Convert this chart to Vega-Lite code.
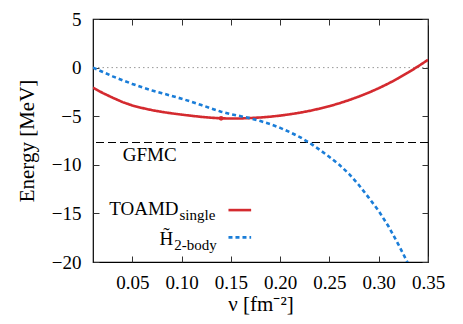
{
  "$schema": "https://vega.github.io/schema/vega-lite/v6.json",
  "width": 335,
  "height": 243,
  "autosize": {"type": "none"},
  "padding": {"left": 93, "top": 19, "right": 35, "bottom": 62},
  "background": "white",
  "data": {"values": [{"k": 1}]},
  "config": {
    "view": {"stroke": "black", "strokeWidth": 1.2},
    "font": "Liberation Serif",
    "style": {
      "guide-label": {"font": "Liberation Serif", "fontSize": 19, "fill": "black"},
      "guide-title": {"font": "Liberation Serif", "fontSize": 21, "fill": "black", "fontWeight": "normal"}
    },
    "axis": {
      "grid": false,
      "domain": false,
      "labelFont": "Liberation Serif",
      "titleFont": "Liberation Serif",
      "labelFontSize": 19,
      "titleFontSize": 21,
      "labelColor": "black",
      "titleColor": "black",
      "titleFontWeight": "normal",
      "labelFlush": false,
      "labelOverlap": false,
      "tickColor": "#333",
      "tickWidth": 1,
      "tickSize": -6
    }
  },
  "datasets": {
    "curves": [
      {"nu": 0.01, "E": -2.07, "series": "TOAMD"},
      {"nu": 0.02, "E": -2.62, "series": "TOAMD"},
      {"nu": 0.03, "E": -3.1, "series": "TOAMD"},
      {"nu": 0.04, "E": -3.55, "series": "TOAMD"},
      {"nu": 0.05, "E": -3.9, "series": "TOAMD"},
      {"nu": 0.06, "E": -4.16, "series": "TOAMD"},
      {"nu": 0.07, "E": -4.38, "series": "TOAMD"},
      {"nu": 0.08, "E": -4.56, "series": "TOAMD"},
      {"nu": 0.09, "E": -4.71, "series": "TOAMD"},
      {"nu": 0.1, "E": -4.84, "series": "TOAMD"},
      {"nu": 0.11, "E": -4.96, "series": "TOAMD"},
      {"nu": 0.12, "E": -5.07, "series": "TOAMD"},
      {"nu": 0.13, "E": -5.16, "series": "TOAMD"},
      {"nu": 0.14, "E": -5.22, "series": "TOAMD"},
      {"nu": 0.15, "E": -5.24, "series": "TOAMD"},
      {"nu": 0.16, "E": -5.23, "series": "TOAMD"},
      {"nu": 0.17, "E": -5.19, "series": "TOAMD"},
      {"nu": 0.18, "E": -5.13, "series": "TOAMD"},
      {"nu": 0.19, "E": -5.05, "series": "TOAMD"},
      {"nu": 0.2, "E": -4.94, "series": "TOAMD"},
      {"nu": 0.21, "E": -4.8, "series": "TOAMD"},
      {"nu": 0.22, "E": -4.64, "series": "TOAMD"},
      {"nu": 0.23, "E": -4.45, "series": "TOAMD"},
      {"nu": 0.24, "E": -4.22, "series": "TOAMD"},
      {"nu": 0.25, "E": -3.97, "series": "TOAMD"},
      {"nu": 0.26, "E": -3.67, "series": "TOAMD"},
      {"nu": 0.27, "E": -3.34, "series": "TOAMD"},
      {"nu": 0.28, "E": -2.97, "series": "TOAMD"},
      {"nu": 0.29, "E": -2.57, "series": "TOAMD"},
      {"nu": 0.3, "E": -2.12, "series": "TOAMD"},
      {"nu": 0.31, "E": -1.63, "series": "TOAMD"},
      {"nu": 0.32, "E": -1.09, "series": "TOAMD"},
      {"nu": 0.33, "E": -0.5, "series": "TOAMD"},
      {"nu": 0.34, "E": 0.13, "series": "TOAMD"},
      {"nu": 0.35, "E": 0.8, "series": "TOAMD"},
      {"nu": 0.01, "E": 0.0, "series": "H2"},
      {"nu": 0.02, "E": -0.45, "series": "H2"},
      {"nu": 0.03, "E": -0.9, "series": "H2"},
      {"nu": 0.04, "E": -1.3, "series": "H2"},
      {"nu": 0.05, "E": -1.68, "series": "H2"},
      {"nu": 0.06, "E": -2.03, "series": "H2"},
      {"nu": 0.07, "E": -2.35, "series": "H2"},
      {"nu": 0.08, "E": -2.63, "series": "H2"},
      {"nu": 0.09, "E": -2.92, "series": "H2"},
      {"nu": 0.1, "E": -3.2, "series": "H2"},
      {"nu": 0.11, "E": -3.52, "series": "H2"},
      {"nu": 0.12, "E": -3.85, "series": "H2"},
      {"nu": 0.13, "E": -4.2, "series": "H2"},
      {"nu": 0.14, "E": -4.54, "series": "H2"},
      {"nu": 0.15, "E": -4.8, "series": "H2"},
      {"nu": 0.16, "E": -5.0, "series": "H2"},
      {"nu": 0.17, "E": -5.22, "series": "H2"},
      {"nu": 0.18, "E": -5.5, "series": "H2"},
      {"nu": 0.19, "E": -5.82, "series": "H2"},
      {"nu": 0.2, "E": -6.2, "series": "H2"},
      {"nu": 0.21, "E": -6.65, "series": "H2"},
      {"nu": 0.22, "E": -7.15, "series": "H2"},
      {"nu": 0.23, "E": -7.75, "series": "H2"},
      {"nu": 0.24, "E": -8.45, "series": "H2"},
      {"nu": 0.25, "E": -9.2, "series": "H2"},
      {"nu": 0.26, "E": -10.0, "series": "H2"},
      {"nu": 0.27, "E": -10.95, "series": "H2"},
      {"nu": 0.28, "E": -12.1, "series": "H2"},
      {"nu": 0.29, "E": -13.4, "series": "H2"},
      {"nu": 0.3, "E": -14.75, "series": "H2"},
      {"nu": 0.31, "E": -16.35, "series": "H2"},
      {"nu": 0.32, "E": -18.2, "series": "H2"},
      {"nu": 0.33, "E": -20.2, "series": "H2"}
    ]
  },
  "resolve": {"axis": {"x": "independent", "y": "independent"}},
  "layer": [
    {
      "mark": {"type": "rule", "color": "#999999", "strokeWidth": 1, "strokeDash": [1.5, 3]},
      "encoding": {
        "y": {"datum": 0, "type": "quantitative", "scale": {"domain": [-20, 5]}, "axis": null}
      }
    },
    {
      "mark": {"type": "rule", "color": "black", "strokeWidth": 1.1, "strokeDash": [8, 4]},
      "encoding": {
        "y": {"datum": -7.7, "type": "quantitative", "axis": null}
      }
    },
    {
      "data": {"name": "curves"},
      "mark": {"type": "line", "clip": true, "strokeWidth": 2.6},
      "encoding": {
        "x": {
          "field": "nu", "type": "quantitative",
          "scale": {"domain": [0.01, 0.35], "nice": false, "zero": false},
          "axis": {"orient": "bottom", "values": [0.05, 0.1, 0.15, 0.2, 0.25, 0.3, 0.35], "format": ".2f", "title": "ν [fm⁻²]", "labelFont": "Liberation Serif", "titleFont": "Liberation Serif", "labelPadding": 17, "titlePadding": 1}
        },
        "y": {
          "field": "E", "type": "quantitative",
          "scale": {"domain": [-20, 5], "nice": false, "zero": false},
          "axis": {"orient": "left", "values": [-20, -15, -10, -5, 0, 5], "title": "Energy [MeV]", "labelFont": "Liberation Serif", "titleFont": "Liberation Serif", "labelPadding": 18, "titlePadding": 14}
        },
        "color": {
          "field": "series", "type": "nominal",
          "scale": {"domain": ["TOAMD", "H2"], "range": ["#d42a2f", "#1a7dd8"]},
          "legend": null
        },
        "strokeDash": {
          "field": "series", "type": "nominal",
          "scale": {"domain": ["TOAMD", "H2"], "range": [[1, 0], [4, 3]]},
          "legend": null
        }
      }
    },
    {
      "mark": {"type": "point", "filled": true, "color": "#d42a2f", "size": 22, "opacity": 1},
      "encoding": {
        "x": {"datum": 0.14, "type": "quantitative",
          "axis": {"orient": "top", "values": [0.05, 0.1, 0.15, 0.2, 0.25, 0.3, 0.35], "labels": false, "title": null}},
        "y": {"datum": -5.22, "type": "quantitative",
          "axis": {"orient": "right", "values": [-20, -15, -10, -5, 0, 5], "labels": false, "title": null}}
      }
    },
    {
      "mark": {"type": "text", "text": "GFMC", "fontSize": 19, "font": "Liberation Serif", "align": "center", "baseline": "alphabetic", "color": "black"},
      "encoding": {
        "x": {"datum": 0.0676, "type": "quantitative", "axis": null},
        "y": {"datum": -9.63, "type": "quantitative", "axis": null}
      }
    },
    {
      "mark": {"type": "text", "text": "TOAMD", "fontSize": 19, "font": "Liberation Serif", "align": "right", "baseline": "alphabetic", "color": "black"},
      "encoding": {
        "x": {"datum": 0.0968, "type": "quantitative", "axis": null},
        "y": {"datum": -15.18, "type": "quantitative", "axis": null}
      }
    },
    {
      "mark": {"type": "text", "text": "single", "fontSize": 15, "font": "Liberation Serif", "align": "left", "baseline": "alphabetic", "dx": 1, "dy": 5, "color": "black"},
      "encoding": {
        "x": {"datum": 0.0968, "type": "quantitative", "axis": null},
        "y": {"datum": -15.18, "type": "quantitative", "axis": null}
      }
    },
    {
      "mark": {"type": "text", "text": "H̃", "fontSize": 19, "font": "Liberation Serif", "align": "right", "baseline": "alphabetic", "color": "black"},
      "encoding": {
        "x": {"datum": 0.0914, "type": "quantitative", "axis": null},
        "y": {"datum": -18.25, "type": "quantitative", "axis": null}
      }
    },
    {
      "mark": {"type": "text", "text": "2-body", "fontSize": 15, "font": "Liberation Serif", "align": "left", "baseline": "alphabetic", "dx": 1, "dy": 5, "color": "black"},
      "encoding": {
        "x": {"datum": 0.0914, "type": "quantitative", "axis": null},
        "y": {"datum": -18.25, "type": "quantitative", "axis": null}
      }
    },
    {
      "mark": {"type": "rule", "color": "#d42a2f", "strokeWidth": 2.6},
      "encoding": {
        "x": {"datum": 0.1475, "type": "quantitative", "axis": null},
        "x2": {"datum": 0.1705},
        "y": {"datum": -14.66, "type": "quantitative", "axis": null}
      }
    },
    {
      "mark": {"type": "rule", "color": "#1a7dd8", "strokeWidth": 2.6, "strokeDash": [4, 3]},
      "encoding": {
        "x": {"datum": 0.1475, "type": "quantitative", "axis": null},
        "x2": {"datum": 0.1705},
        "y": {"datum": -17.47, "type": "quantitative", "axis": null}
      }
    }
  ]
}
